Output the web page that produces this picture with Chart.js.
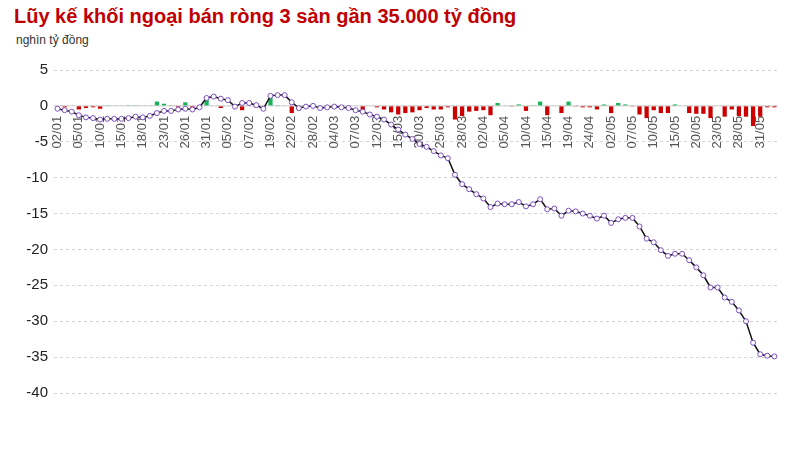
<!DOCTYPE html>
<html><head><meta charset="utf-8">
<script src="https://cdn.jsdelivr.net/npm/chart.js@4"></script>
<style>
body{margin:0;background:#fff;font-family:"Liberation Sans",Arial,sans-serif;}
#t{position:absolute;left:14px;top:5px;font-size:20px;font-weight:bold;color:#c00000;}
#s{position:absolute;left:16px;top:33px;font-size:12px;color:#333;}
#w{position:absolute;left:0;top:55px;width:792px;height:398px;}
</style></head><body>
<div id="t">Lũy kế khối ngoại bán ròng 3 sàn gần 35.000 tỷ đồng</div>
<div id="s">nghìn tỷ đồng</div>
<div id="w"><canvas id="c"></canvas></div>
<script>
const tickLabels=["02/01","05/01","10/01","15/01","18/01","23/01","26/01","31/01","05/02","07/02","19/02","22/02","28/02","04/03","07/03","12/03","15/03","20/03","25/03","28/03","02/04","05/04","10/04","15/04","19/04","24/04","02/05","07/05","10/05","15/05","20/05","23/05","28/05","31/05"];
const cumulative=[-0.4,-0.6,-0.8,-1.3,-1.6,-1.7,-1.9,-1.8,-1.8,-1.8,-1.7,-1.5,-1.6,-1.4,-1.0,-0.7,-0.7,-0.5,-0.4,-0.5,-0.2,1.1,1.3,1.0,0.8,-0.1,0.4,0.4,0.1,-0.4,1.4,1.5,1.5,0.5,-0.3,-0.1,0.0,-0.3,-0.2,-0.1,-0.2,-0.3,-0.6,-0.8,-1.2,-1.5,-1.9,-2.6,-3.3,-4.0,-4.6,-5.3,-5.7,-6.3,-6.9,-7.3,-9.6,-10.9,-11.6,-12.3,-12.9,-14.1,-13.6,-13.7,-13.7,-13.4,-14.0,-13.7,-13.0,-14.4,-14.3,-15.3,-14.6,-14.7,-15.0,-15.3,-15.7,-15.3,-16.3,-15.8,-15.6,-15.6,-16.8,-18.5,-19.0,-20.1,-20.9,-20.6,-20.6,-21.5,-22.5,-23.6,-25.3,-25.3,-26.7,-27.3,-28.5,-30.0,-33.0,-34.6,-34.8,-34.9];
const daily=[0,-0.2,0,-0.5,-0.3,-0.2,-0.4,0.1,0,0,0.1,0.1,0,0,0.6,0.3,0.1,-0.2,0.5,-0.3,0,1.0,0,-0.3,0,0,-0.6,0,-0.2,0,1.1,0.1,0,-1.0,-0.6,0,0,0,0,0,0,0,0,-0.6,0,-0.2,-0.5,-0.9,-1.2,-1.0,-0.9,-0.6,-0.3,-0.5,-0.5,-0.2,-1.9,-1.4,-0.8,-0.7,-0.6,-1.3,0.4,0,-0.1,0.2,-0.7,0.1,0.6,-1.3,0,-1.0,0.6,-0.1,-0.2,-0.2,-0.5,0.2,-1.0,0.4,0.2,-0.1,-1.2,-1.7,-0.6,-1.0,-1.0,0.2,0,-1.0,-1.1,-1.1,-1.7,0,-1.5,-0.5,-1.4,-1.5,-2.8,-1.5,-0.2,-0.2];
const categories=cumulative.map((v,i)=>i%3===0&&tickLabels[i/3]?tickLabels[i/3]:"");
new Chart(document.getElementById('c'),{
 data:{labels:categories,datasets:[
  {type:'line',data:cumulative,borderColor:'#111',borderWidth:1.5,pointRadius:2.5,pointBorderWidth:1,pointBackgroundColor:'#fff',pointBorderColor:'#7b4fc0',tension:0,order:0},
  {type:'bar',data:daily,backgroundColor:daily.map(v=>v>=0?'#16b35a':'#cc0000'),barPercentage:0.6,categoryPercentage:1,order:1}
 ]},
 options:{responsive:true,maintainAspectRatio:false,animation:false,
  layout:{padding:{left:14,right:0,top:6,bottom:60}},
  plugins:{legend:{display:false},tooltip:{enabled:false}},
  scales:{
   x:{position:{y:0},grid:{display:false},border:{display:false},
      ticks:{autoSkip:false,maxRotation:90,minRotation:90,color:'#555',font:{size:13,family:'Liberation Sans'},padding:2}},
   y:{min:-40,max:5,border:{display:false,dash:[3,3]},
      ticks:{stepSize:5,color:'#222',font:{size:15,family:'Liberation Sans'},padding:6},
      grid:{color:'#d4d4d4',drawTicks:false},
      afterFit:s=>{s.width=40;}}
  }},
 plugins:[{id:'zero',beforeDatasetsDraw(ch){const y=ch.scales.y.getPixelForValue(0),a=ch.chartArea,c=ch.ctx;c.save();c.strokeStyle='#cfcfcf';c.lineWidth=1;c.beginPath();c.moveTo(a.left,y);c.lineTo(a.right,y);c.stroke();c.restore();}}]
});
</script></body></html>
